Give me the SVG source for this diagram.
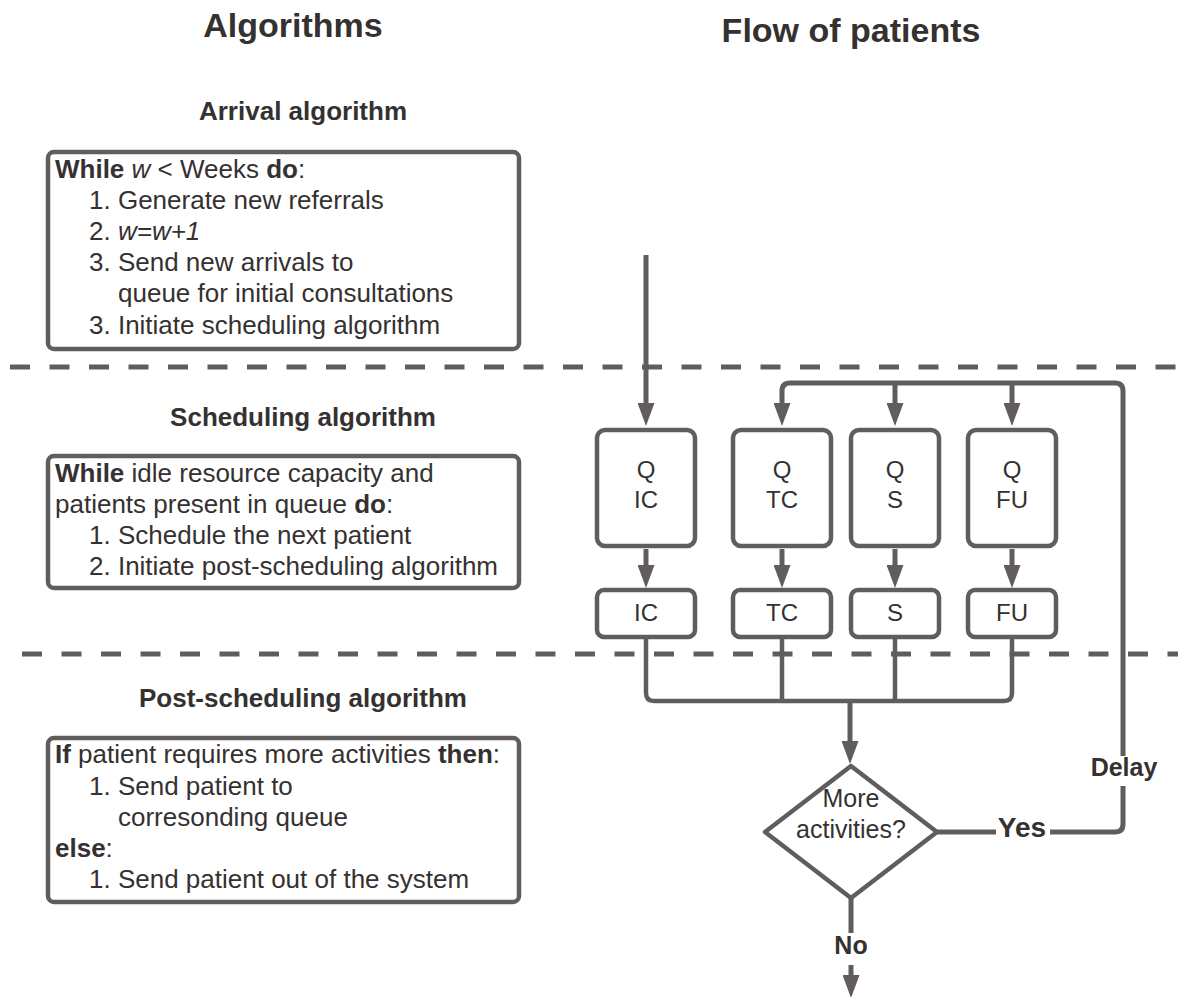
<svg xmlns="http://www.w3.org/2000/svg" width="1178" height="997" viewBox="0 0 1178 997">
<defs>
<style>
.t{font-family:"Liberation Sans",Arial,sans-serif;fill:#353131}
.b{font-weight:bold}
.box{fill:#fff;stroke:#615d5c;stroke-width:4.5}
.ln{fill:none;stroke:#615d5c;stroke-width:5;stroke-linejoin:round}
.dash{fill:none;stroke:#615d5c;stroke-width:5;stroke-dasharray:20 19.5}
.code{font-size:26px}
.q{font-size:24px;text-anchor:middle}
</style>
<marker id="ah" markerUnits="userSpaceOnUse" markerWidth="23" markerHeight="17" viewBox="0 0 23 17" refX="0" refY="8.5" orient="auto">
<path d="M0,0 L23,8.5 L0,17 Z" fill="#615d5c"/>
</marker>
</defs>
<rect width="1178" height="997" fill="#fff"/>

<g id="titles">
<text class="t b" x="293" y="37" font-size="34" text-anchor="middle">Algorithms</text>
<text class="t b" x="851" y="42" font-size="34" text-anchor="middle">Flow of patients</text>
<text class="t b" x="303" y="120" font-size="26" text-anchor="middle">Arrival algorithm</text>
<text class="t b" x="303" y="426" font-size="26" text-anchor="middle">Scheduling algorithm</text>
<text class="t b" x="303" y="707" font-size="26" text-anchor="middle">Post-scheduling algorithm</text>
</g>

<g id="separators">
<line class="dash" x1="10" y1="367" x2="1178" y2="367"/>
<line class="dash" x1="22" y1="654" x2="1178" y2="654"/>
</g>

<g id="arrival-box">
<rect class="box" x="48" y="152" width="471" height="197" rx="6"/>
<text class="t code" x="55" y="178"><tspan class="b">While</tspan> <tspan font-style="italic">w</tspan> &lt; Weeks <tspan class="b">do</tspan>:</text>
<text class="t code" x="89" y="209">1. Generate new referrals</text>
<text class="t code" x="89" y="240">2. <tspan font-style="italic">w=w+1</tspan></text>
<text class="t code" x="89" y="271">3. Send new arrivals to</text>
<text class="t code" x="118" y="302">queue for initial consultations</text>
<text class="t code" x="89" y="334">3. Initiate scheduling algorithm</text>
</g>

<g id="scheduling-box">
<rect class="box" x="48" y="456" width="471" height="132" rx="6"/>
<text class="t code" x="55" y="482"><tspan class="b">While</tspan> idle resource capacity and</text>
<text class="t code" x="55" y="513">patients present in queue <tspan class="b">do</tspan>:</text>
<text class="t code" x="89" y="544">1. Schedule the next patient</text>
<text class="t code" x="89" y="575">2. Initiate post-scheduling algorithm</text>
</g>

<g id="post-scheduling-box">
<rect class="box" x="48" y="738" width="471" height="164" rx="6"/>
<text class="t code" x="55" y="763"><tspan class="b">If</tspan> patient requires more activities <tspan class="b">then</tspan>:</text>
<text class="t code" x="89" y="795">1. Send patient to</text>
<text class="t code" x="118" y="826">corresonding queue</text>
<text class="t code" x="55" y="857"><tspan class="b">else</tspan>:</text>
<text class="t code" x="89" y="888">1. Send patient out of the system</text>
</g>

<g id="connectors">
<path class="ln" d="M646 255 V403" marker-end="url(#ah)"/>
<path class="ln" d="M937 832 H1115 Q1123 832 1123 824 V391 Q1123 383 1115 383 H790 Q782 383 782 391 V403" marker-end="url(#ah)"/>
<path class="ln" d="M895 383 V403" marker-end="url(#ah)"/>
<path class="ln" d="M1012 383 V403" marker-end="url(#ah)"/>
<path class="ln" d="M646 549 V565" marker-end="url(#ah)"/>
<path class="ln" d="M782 549 V565" marker-end="url(#ah)"/>
<path class="ln" d="M895 549 V565" marker-end="url(#ah)"/>
<path class="ln" d="M1012 549 V565" marker-end="url(#ah)"/>
<path class="ln" style="stroke-width:4.5" d="M646 638 V693 Q646 701 654 701 H1004 Q1012 701 1012 693 V638"/>
<path class="ln" style="stroke-width:4.5" d="M782 638 V701"/>
<path class="ln" style="stroke-width:4.5" d="M895 638 V701"/>
<path class="ln" d="M850 701 V741" marker-end="url(#ah)"/>
<path class="ln" d="M851 898 V933"/>
<path class="ln" d="M851 965 V975" marker-end="url(#ah)"/>
</g>

<g id="q-ic">
<rect class="box" x="597" y="430" width="98" height="116" rx="8"/>
<text class="t q" x="646" y="478">Q</text>
<text class="t q" x="646" y="508">IC</text>
</g>
<g id="q-tc">
<rect class="box" x="733" y="430" width="98" height="116" rx="8"/>
<text class="t q" x="782" y="478">Q</text>
<text class="t q" x="782" y="508">TC</text>
</g>
<g id="q-s">
<rect class="box" x="851" y="430" width="88" height="116" rx="8"/>
<text class="t q" x="895" y="478">Q</text>
<text class="t q" x="895" y="508">S</text>
</g>
<g id="q-fu">
<rect class="box" x="968" y="430" width="88" height="116" rx="8"/>
<text class="t q" x="1012" y="478">Q</text>
<text class="t q" x="1012" y="508">FU</text>
</g>

<g id="ic">
<rect class="box" x="597" y="590" width="98" height="47" rx="7"/>
<text class="t q" x="646" y="621">IC</text>
</g>
<g id="tc">
<rect class="box" x="733" y="590" width="98" height="47" rx="7"/>
<text class="t q" x="782" y="621">TC</text>
</g>
<g id="s">
<rect class="box" x="851" y="590" width="88" height="47" rx="7"/>
<text class="t q" x="895" y="621">S</text>
</g>
<g id="fu">
<rect class="box" x="968" y="590" width="88" height="47" rx="7"/>
<text class="t q" x="1012" y="621">FU</text>
</g>

<g id="decision">
<polygon class="box" points="851,766 937,832 851,898 765,832" stroke-linejoin="round"/>
<text class="t" x="851" y="807" font-size="25" text-anchor="middle">More</text>
<text class="t" x="851" y="838" font-size="25" text-anchor="middle">activities?</text>
</g>

<g id="labels">
<rect x="996" y="812" width="54" height="36" fill="#fff"/>
<text class="t b" x="1022" y="837" font-size="28" text-anchor="middle">Yes</text>
<rect x="1089" y="756" width="70" height="30" fill="#fff"/>
<text class="t b" x="1124" y="776" font-size="25" text-anchor="middle">Delay</text>
<text class="t b" x="851" y="954" font-size="25" text-anchor="middle">No</text>
</g>
</svg>
